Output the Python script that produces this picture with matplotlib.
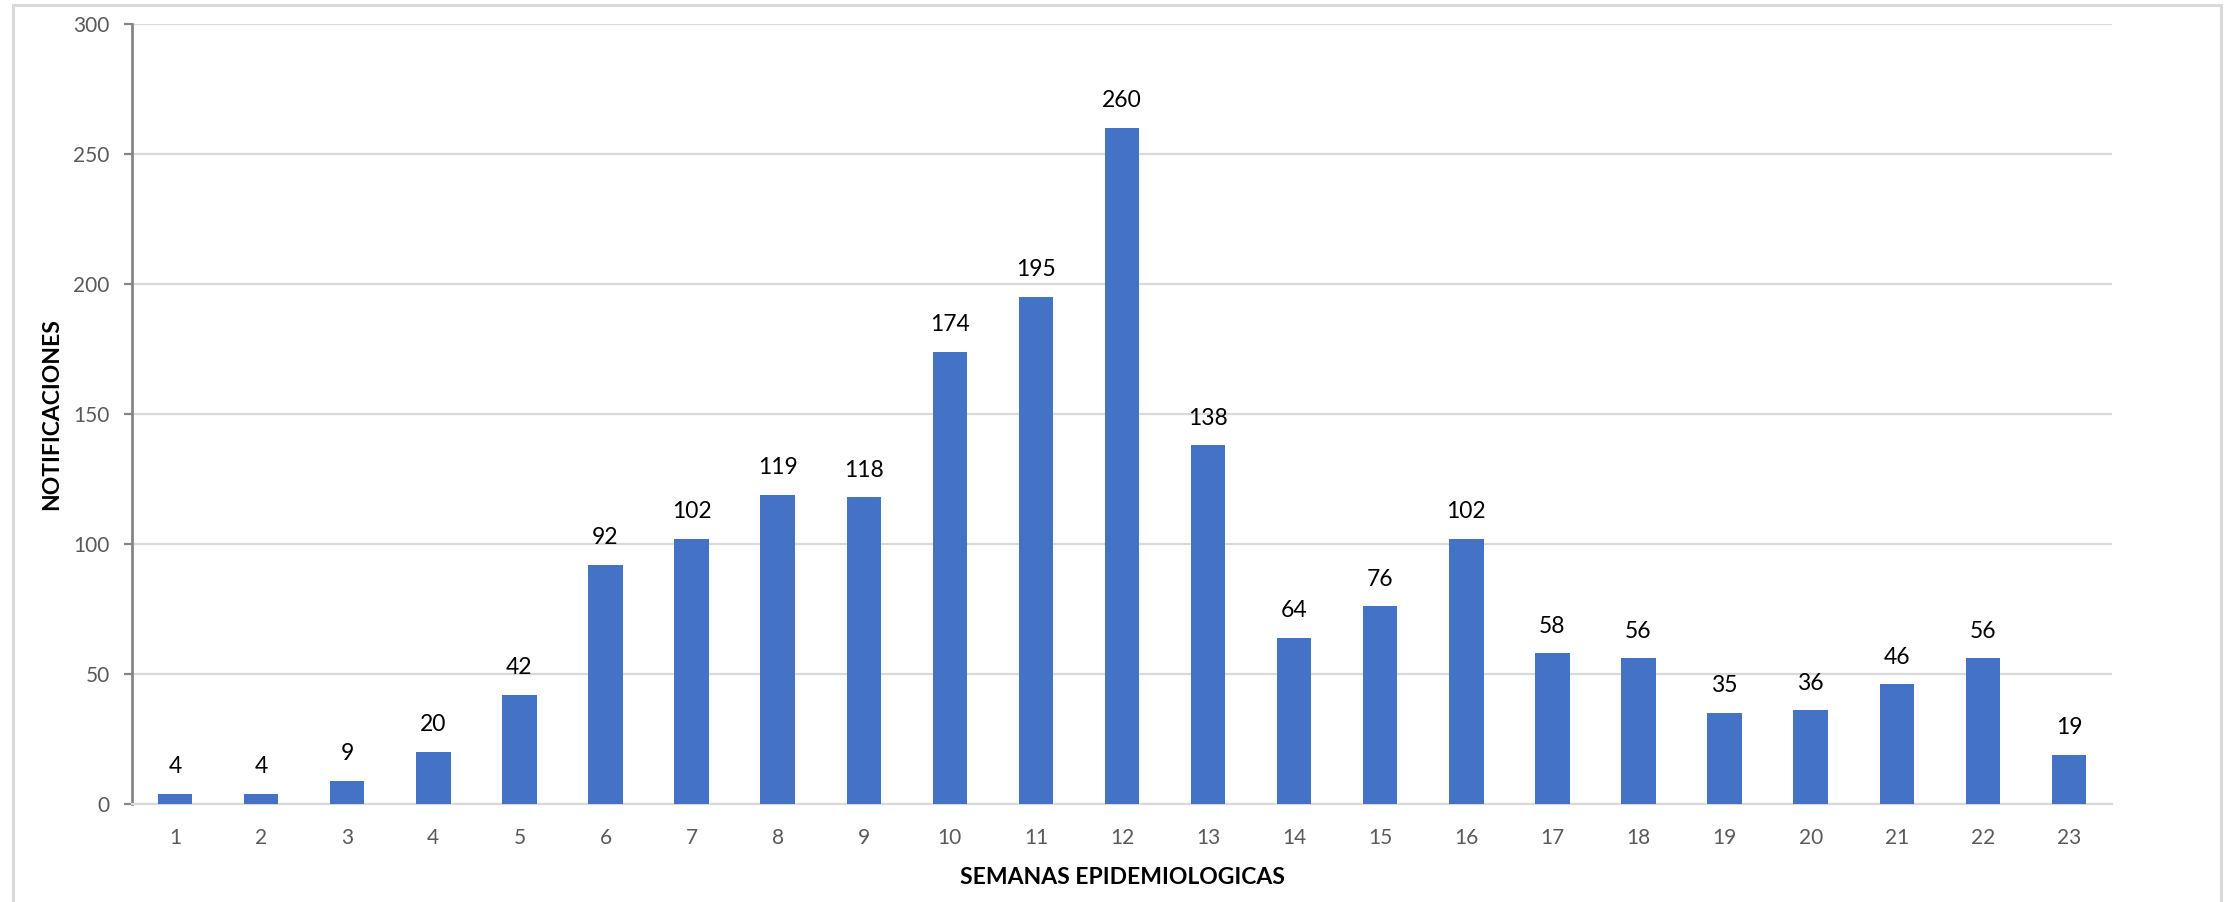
import matplotlib
matplotlib.use("Agg")
import matplotlib.pyplot as plt
from matplotlib.patches import Rectangle

weeks = [str(i) for i in range(1, 24)]
notificaciones = [4, 4, 9, 20, 42, 92, 102, 119, 118, 174, 195, 260, 138,
                  64, 76, 102, 58, 56, 35, 36, 46, 56, 19]
yticks = [0, 50, 100, 150, 200, 250, 300]

plt.rcParams['font.family'] = ['Lato', 'DejaVu Sans']

W, H = 2234, 902
fig = plt.figure(figsize=(W / 100, H / 100), dpi=100)
fig.patch.set_facecolor('white')

# outer chart frame
fig.patches.append(Rectangle((13 / W, -0.05), (2221 - 13) / W, (H - 5) / H + 0.05,
                             transform=fig.transFigure, fill=False,
                             edgecolor='#D9D9D9', linewidth=2.2, zorder=0))

ax = fig.add_axes([132 / W, (H - 804) / H, (2112 - 132) / W, (804 - 24) / H])
x = list(range(len(weeks)))
bars = ax.bar(x, notificaciones, width=0.4, color='#4472C4', zorder=3)

ax.set_xlim(-0.5, len(weeks) - 0.5)
ax.set_ylim(0, 300)
ax.set_yticks(yticks)
ax.set_xticks(x)
ax.set_xticklabels(weeks)

ax.grid(axis='y', color='#D9D9D9', linewidth=1.6, zorder=0)
ax.set_axisbelow(True)

for s in ['top', 'right']:
    ax.spines[s].set_visible(False)
ax.spines['left'].set_color('#868686')
ax.spines['left'].set_linewidth(2.0)
ax.spines['bottom'].set_color('#D9D9D9')
ax.spines['bottom'].set_linewidth(1.6)

ax.tick_params(axis='y', length=6, width=1.6, color='#868686', pad=10,
               labelsize=15, labelcolor='#595959')
ax.tick_params(axis='x', length=0, pad=17, labelsize=15, labelcolor='#595959')

for xi, v in zip(x, notificaciones):
    ax.annotate(str(v), (xi, v), xytext=(0, 12), textcoords='offset points',
                ha='center', va='bottom', fontsize=16.5, color='black')

ax.set_xlabel('SEMANAS EPIDEMIOLOGICAS', fontsize=16.5, fontweight='bold',
              color='black', labelpad=14)
ax.set_ylabel('NOTIFICACIONES', fontsize=16.5, fontweight='bold',
              color='black', labelpad=8)

fig.savefig('out.png', dpi=100, facecolor='white')
